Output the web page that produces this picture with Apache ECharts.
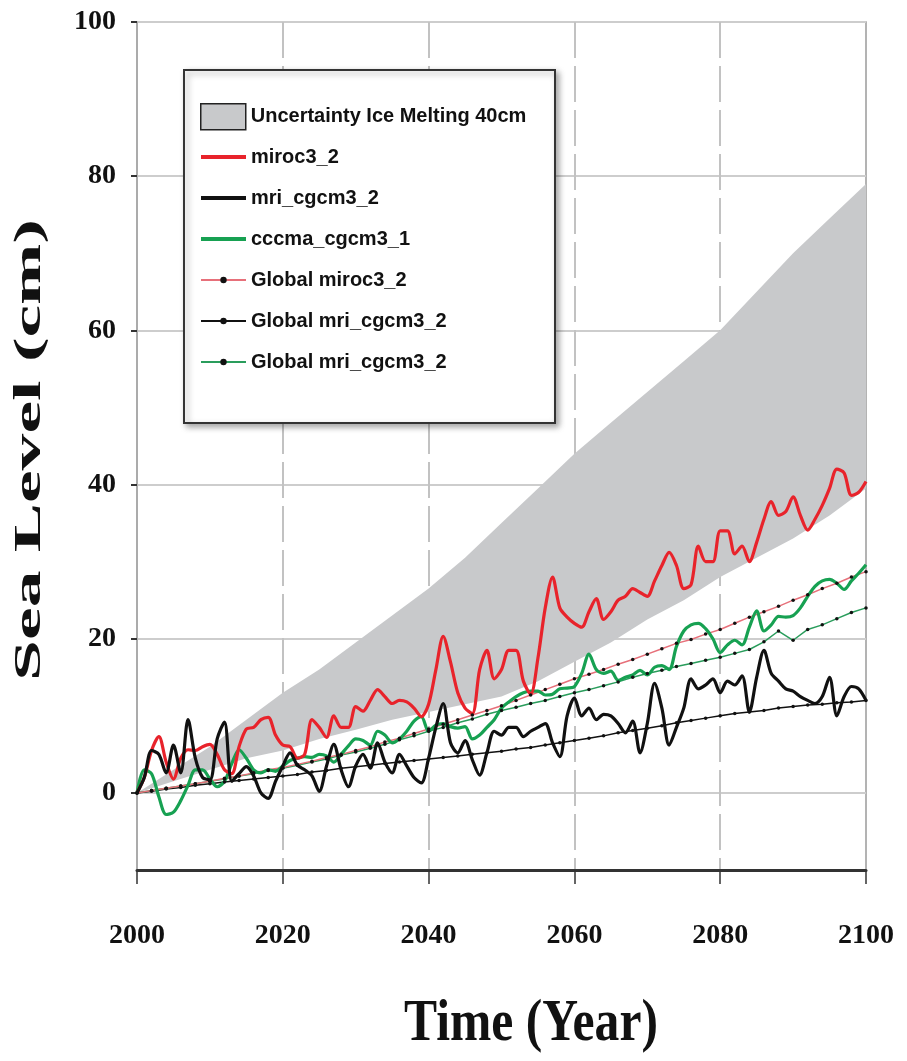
<!DOCTYPE html>
<html>
<head>
<meta charset="utf-8">
<script src="https://cdn.jsdelivr.net/npm/echarts@6/dist/echarts.min.js"></script>
<style>
  html, body { margin: 0; background: #fff; }
  #seaLevel { width: 907px; height: 1061px; }
</style>
</head>
<body>
<div id="seaLevel"></div>
<script>
  // x values
  var years = [];
  for (var y = 2000; y <= 2100; y++) years.push(y);
  var globalYears = [];
  for (var g = 2000; g <= 2100; g += 2) globalYears.push(g);
  var bandYears = [];
  for (var b = 2000; b <= 2100; b += 5) bandYears.push(b);

  // regional model runs, one value per year (cm)
  var miroc = [0, 2, 5.5, 7.3, 4, 1.8, 4.5, 5.6, 5.5, 6,
    6.3, 5, 3, 2.5, 6, 8.3, 8.5, 9.5, 9.8, 7.5,
    6.2, 6, 4.5, 5, 9.5, 8.5, 7.2, 10, 8.5, 8.5,
    11.2, 10.6, 12, 13.4, 12.5, 11.6, 12, 11.8, 11, 9.9,
    11.5, 16, 20.3, 17, 13, 11, 10.3, 16, 18.5, 14.8,
    16, 18.5, 18.5, 14.5, 12.8, 17.5, 24, 28, 24, 22.8,
    22, 21.5, 23.5, 25.2, 22.5, 23.5, 25, 25.5, 26.5, 26,
    25.5, 27.5, 29.5, 31.2, 29.5, 26.5, 27, 32, 30, 30,
    34, 34, 31, 32, 30, 32.5, 35.5, 37.8, 36, 36.5,
    38.4, 36, 34.1, 35.5, 37.3, 39.5, 42, 41.5, 38.6, 39,
    40.4];
  var mri = [0, 2, 5.5, 5, 2.6, 6.2, 2.6, 9.5, 4.5, 2,
    1.7, 7, 9.2, 1.5, 2.5, 3.4, 2.2, 0, -0.7, 1.5,
    3.5, 5.2, 3.6, 3, 2.2, 0.2, 3.5, 6.3, 3, 0.8,
    3.5, 5, 3.2, 6.5, 4, 2.6, 5, 3.5, 2, 1.3,
    4.5, 8.5, 11.6, 6.5, 5.2, 6.8, 4.3, 2.3, 5.2, 8,
    7.5, 8.5, 8.5, 7.3, 8, 8.5, 9, 6.5, 4.7, 10,
    12.3, 10, 11, 9.5, 10.2, 10, 9, 7.8, 9.3, 5.2,
    9, 14.2, 11, 6.2, 8.5, 11, 14.8, 13.5, 14, 14.8,
    13, 14.5, 14, 15.2, 10.5, 15, 18.5, 15.5, 14.5, 13.5,
    13.2, 12.5, 12, 11.6, 12.5, 15, 10, 12.5, 13.8, 13.5,
    12];
  var cccma = [0, 3, 2.5, -0.5, -2.8, -2.5, -1, 1, 3, 3,
    1.8, 0.8, 1.5, 3.8, 5.6, 4.5, 3, 2.6, 3, 2.8,
    3.5, 4.2, 4.5, 4.7, 4.6, 5, 4.8, 4, 5, 6.1,
    7, 6.8, 6.2, 8, 7.5, 6.5, 7, 8, 9.3, 9.9,
    8, 8.8, 9, 8.6, 8.4, 8.6, 7, 7.5, 8.5, 9.5,
    11, 11.8, 12.5, 13, 13.2, 13.2, 12.7, 12.8, 13.5, 13.6,
    13.8, 15.5, 18, 16, 15.5, 15.8, 14.6, 15, 15.3, 15.9,
    15.3, 16.3, 16.5, 16, 19, 21, 21.8, 22, 21.3, 20,
    18.2, 19.2, 19.8, 19.2, 21.5, 23.6, 21, 21.8, 22.9, 22.8,
    23, 24, 25.5, 26.8, 27.5, 27.7, 27.2, 26.4, 27.5, 28.5,
    29.6];

  // global projections, every 2 years
  var globalMiroc = [0, 0.3, 0.6, 0.9, 1.2, 1.5, 1.9, 2.2, 2.6, 3.0,
    3.3, 3.7, 4.1, 4.6, 5.0, 5.5, 6.0, 6.6, 7.1, 7.7,
    8.3, 8.9, 9.5, 10.1, 10.7, 11.3, 12.0, 12.7, 13.4, 14.1,
    14.8, 15.4, 16.0, 16.7, 17.3, 18.0, 18.7, 19.4, 19.9, 20.6,
    21.2, 22.0, 22.8, 23.5, 24.2, 25.0, 25.7, 26.5, 27.2, 28.0,
    28.7];
  var globalMri = [0, 0.2, 0.5, 0.7, 1.0, 1.2, 1.4, 1.6, 1.8, 2.0,
    2.2, 2.4, 2.7, 2.9, 3.2, 3.4, 3.6, 3.8, 4.0, 4.2,
    4.4, 4.6, 4.8, 5.0, 5.2, 5.4, 5.7, 5.9, 6.2, 6.5,
    6.8, 7.1, 7.4, 7.8, 8.1, 8.4, 8.7, 9.1, 9.4, 9.7,
    10.0, 10.3, 10.5, 10.7, 11.0, 11.2, 11.4, 11.5, 11.7, 11.8,
    12.0];
  var globalGreen = [0, 0.3, 0.6, 0.9, 1.2, 1.5, 1.8, 2.2, 2.5, 2.9,
    3.2, 3.6, 4.0, 4.4, 4.9, 5.3, 5.8, 6.3, 6.9, 7.4,
    8.0, 8.5, 9.1, 9.6, 10.2, 10.7, 11.1, 11.6, 12.0, 12.5,
    13.0, 13.4, 13.9, 14.4, 15.0, 15.5, 15.9, 16.4, 16.8, 17.2,
    17.6, 18.1, 18.6, 19.6, 21.0, 19.8, 21.2, 21.8, 22.6, 23.4,
    24.0];

  // ice melting uncertainty band, every 5 years
  var bandLow = [0, 1.5, 3, 4.5, 5.5, 7, 8.2, 9.5, 10.5, 11.5, 12.5,
    14.5, 17, 19.5, 22.5, 25, 28, 30.5, 33, 36, 39.5];
  var bandHigh = [0, 3, 6, 9.5, 13, 16, 19.5, 23, 26.5, 30.5, 35,
    39.5, 44, 48, 52, 56, 60, 65, 70, 74.5, 79];

  var bandName = 'Uncertainty Ice Melting 40cm';
  var names = ['miroc3_2', 'mri_cgcm3_2', 'cccma_cgcm3_1',
    'Global miroc3_2', 'Global mri_cgcm3_2', 'Global mri_cgcm3_2 '];

  function pairs(xs, vs) {
    return xs.map(function (x, i) { return [x, vs[i]]; });
  }

  var serif = '"Liberation Serif", "Times New Roman", serif';
  var narrow = '"Liberation Sans Narrow", "Arial Narrow", "Liberation Sans", sans-serif';
  var barIcon = 'path://M0,0H45V4H0Z';

  var chart = echarts.init(document.getElementById('seaLevel'));
  chart.setOption({
    animation: false,
    backgroundColor: '#fff',
    grid: [
      { left: 137, right: 41, top: 22, bottom: 191, show: true,
        borderColor: '#9a9a9a', borderWidth: 1.5, backgroundColor: 'transparent' },
      { left: 137, right: 41, top: 22, height: 771 }
    ],
    xAxis: [
      {
        type: 'value', gridIndex: 0, min: 2000, max: 2100, interval: 20,
        axisLine: { onZero: false, lineStyle: { color: '#333', width: 3 } },
        axisTick: { length: 14, lineStyle: { color: '#333', width: 1.5 } },
        axisLabel: { margin: 52, fontSize: 28, fontWeight: 'bold', fontFamily: serif, color: '#111',
          formatter: function (v) { return String(v); } },
        splitLine: { show: true, showMinLine: false, showMaxLine: false,
          lineStyle: { color: '#c2c2c2', width: 2, type: [36, 8] } }
      },
      { type: 'value', gridIndex: 1, min: 2000, max: 2100, show: false }
    ],
    yAxis: [
      {
        type: 'value', gridIndex: 0, min: -10, max: 100,
        axisLine: { show: true, onZero: false, lineStyle: { color: '#a8a8a8', width: 1.5 } },
        axisTick: { show: false }, axisLabel: { show: false }, splitLine: { show: false }
      },
      {
        type: 'value', gridIndex: 1, min: 0, max: 100, interval: 20,
        axisLine: { show: false },
        axisTick: { show: true, length: 6, lineStyle: { color: '#333', width: 2 } },
        axisLabel: { margin: 21, fontSize: 28, fontWeight: 'bold', fontFamily: serif, color: '#111' },
        splitLine: { show: true, lineStyle: { color: '#cdcdcd', width: 2 } }
      }
    ],
    legend: [
      {
        z: 20, left: 195, top: 98, orient: 'vertical',
        itemWidth: 45, itemHeight: 26,
        textStyle: { fontSize: 20, fontWeight: 'bold', fontFamily: narrow, color: '#111' },
        data: [{ name: bandName, icon: 'rect',
          itemStyle: { color: '#c8c9cb', borderColor: '#222', borderWidth: 1.5 } }]
      },
      {
        z: 20, left: 195, top: 142, orient: 'vertical',
        itemWidth: 45, itemHeight: 8, itemGap: 21,
        textStyle: { fontSize: 20, lineHeight: 20, fontWeight: 'bold', fontFamily: narrow, color: '#111' },
        data: [
          { name: names[0], icon: barIcon },
          { name: names[1], icon: barIcon },
          { name: names[2], icon: barIcon },
          names[3], names[4], names[5]
        ]
      }
    ],
    graphic: [
      { type: 'rect', z: 10, shape: { x: 184, y: 70, width: 371, height: 353 },
        style: { fill: '#fff', stroke: '#333', lineWidth: 2,
          shadowBlur: 6, shadowOffsetX: 3, shadowOffsetY: 3, shadowColor: 'rgba(0,0,0,0.35)' } },
      { type: 'text', z: 10, x: 30, y: 450, rotation: Math.PI / 2, scaleX: 2.3, scaleY: 1.2,
        style: { text: 'Sea Level (cm)', font: 'bold 32px ' + serif, fill: '#111',
          textAlign: 'center', textVerticalAlign: 'middle' } },
      { type: 'text', z: 10, x: 531, y: 1025, scaleX: 1.24, scaleY: 1.5,
        style: { text: 'Time (Year)', font: 'bold 40px ' + serif, fill: '#111',
          textAlign: 'center', textVerticalAlign: 'middle' } }
    ],
    series: [
      {
        type: 'custom', name: bandName, silent: true, clip: true,
        xAxisIndex: 0, yAxisIndex: 0,
        data: bandYears.map(function (yr, i) { return [yr, bandLow[i], bandHigh[i]]; }),
        encode: { x: 0, y: [1, 2] },
        itemStyle: { color: '#c8c9cb' },
        renderItem: function (params, api) {
          if (params.dataIndex !== 0) return null;
          var top = bandYears.map(function (yr, i) { return api.coord([yr, bandHigh[i]]); });
          var bottom = bandYears.map(function (yr, i) { return api.coord([yr, bandLow[i]]); }).reverse();
          return { type: 'polygon', shape: { points: top.concat(bottom) }, style: { fill: '#c8c9cb' } };
        }
      },
      { type: 'line', name: names[4], data: pairs(globalYears, globalMri),
        symbol: 'circle', symbolSize: 3.5, lineStyle: { color: '#111', width: 1.5 },
        itemStyle: { color: '#111' } },
      { type: 'line', name: names[5], data: pairs(globalYears, globalGreen),
        symbol: 'circle', symbolSize: 3.5, lineStyle: { color: '#2a9d5c', width: 1.5 },
        itemStyle: { color: '#111' } },
      { type: 'line', name: names[3], data: pairs(globalYears, globalMiroc),
        symbol: 'circle', symbolSize: 3.5, lineStyle: { color: '#e7707a', width: 1.5 },
        itemStyle: { color: '#111' } },
      { type: 'line', name: names[2], data: pairs(years, cccma), smooth: 0.3,
        symbol: 'none', color: '#17a152', lineStyle: { color: '#17a152', width: 3.2 } },
      { type: 'line', name: names[0], data: pairs(years, miroc), smooth: 0.3,
        symbol: 'none', color: '#e8232b', lineStyle: { color: '#e8232b', width: 3.2 } },
      { type: 'line', name: names[1], data: pairs(years, mri), smooth: 0.3,
        symbol: 'none', color: '#111', lineStyle: { color: '#111', width: 3.2 } }
    ]
  });
</script>
</body>
</html>
